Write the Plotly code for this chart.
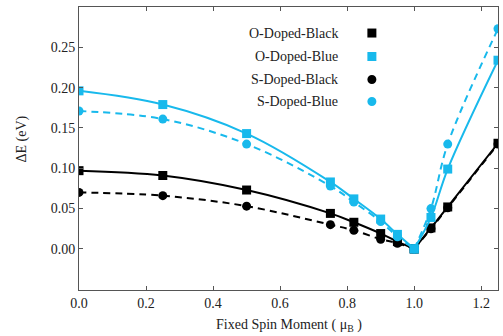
import plotly.graph_objects as go

x_vals = [0.0, 0.25, 0.5, 0.75, 0.82, 0.9, 0.95, 1.0, 1.05, 1.1, 1.25]
o_black = [0.097, 0.091, 0.073, 0.044, 0.033, 0.019, 0.009, 0.0, 0.026, 0.052, 0.131]
o_blue = [0.196, 0.179, 0.143, 0.083, 0.062, 0.037, 0.018, 0.0, 0.039, 0.099, 0.234]
s_black = [0.070, 0.066, 0.053, 0.030, 0.023, 0.012, 0.007, 0.0, 0.025, 0.051, 0.130]
s_blue = [0.171, 0.161, 0.130, 0.078, 0.058, 0.034, 0.015, 0.0, 0.050, 0.130, 0.273]
series_names = ["O-Doped-Black", "O-Doped-Blue", "S-Doped-Black", "S-Doped-Blue"]
x_ticks = [0.0, 0.2, 0.4, 0.6, 0.8, 1.0, 1.2]
y_ticks = [0.0, 0.05, 0.10, 0.15, 0.20, 0.25]
x_title = "Fixed Spin Moment ( μ<sub>B</sub> )"
y_title = "ΔE (eV)"

BLUE = "#18b9ec"
FONT = "Liberation Serif"

series = [
    (o_black, "black", "square", "solid", series_names[0]),
    (s_black, "black", "circle", "7px,5px", series_names[2]),
    (o_blue, BLUE, "square", "solid", series_names[1]),
    (s_blue, BLUE, "circle", "7px,5px", series_names[3]),
]

fig = go.Figure()
split = x_vals.index(1.0)
for ys, col, sym, dash, nm in series:
    for lo, hi in [(0, split + 1), (split, len(x_vals))]:
        fig.add_trace(go.Scatter(
            x=x_vals[lo:hi], y=ys[lo:hi], mode="lines+markers",
            name=nm, showlegend=False,
            line=dict(color=col, width=2, dash=dash, shape="spline", smoothing=1.0),
            marker=dict(symbol=sym, size=9, color=col),
        ))

# legend drawn as text + key markers (marker to the right of the text)
leg_y = [0.908, 0.825, 0.744, 0.666]
leg_sym = ["square", "square", "circle", "circle"]
leg_col = ["black", BLUE, "black", BLUE]
for name, yy, sym, col in zip(series_names, leg_y, leg_sym, leg_col):
    fig.add_annotation(x=0.622, y=yy, xref="paper", yref="paper", text=name,
                       showarrow=False, xanchor="right", yanchor="middle",
                       font=dict(family=FONT, size=14, color="#222"))
    fig.add_shape(type="rect" if sym == "square" else "circle",
                  xref="paper", yref="paper", xsizemode="pixel", ysizemode="pixel",
                  xanchor=0.699, yanchor=yy, x0=-4.5, x1=4.5, y0=-4.5, y1=4.5,
                  fillcolor=col, line=dict(color=col, width=0))

# axis titles
fig.add_annotation(x=0.5, y=-0.124, xref="paper", yref="paper", text=x_title,
                   showarrow=False, xanchor="center", yanchor="middle",
                   font=dict(family=FONT, size=14, color="#222"))
fig.add_annotation(x=-0.137, y=0.534, xref="paper", yref="paper", text=y_title,
                   showarrow=False, xanchor="center", yanchor="middle", textangle=-90,
                   font=dict(family=FONT, size=14, color="#222"))

axis_common = dict(showline=True, linecolor="#555", linewidth=1, mirror="ticks",
                   ticks="inside", ticklen=4, tickcolor="#555", showgrid=False,
                   zeroline=False, tickfont=dict(family=FONT, size=14, color="#222"))
fig.update_xaxes(range=[0, 1.25], tickvals=x_ticks, tickformat=".1f", **axis_common)
fig.update_yaxes(range=[-0.051, 0.300], tickvals=y_ticks, tickformat=".2f", **axis_common)
fig.update_layout(width=503, height=336, margin=dict(l=79, r=5, t=7, b=46),
                  paper_bgcolor="white", plot_bgcolor="white", showlegend=False)
fig.write_html("out.html")
